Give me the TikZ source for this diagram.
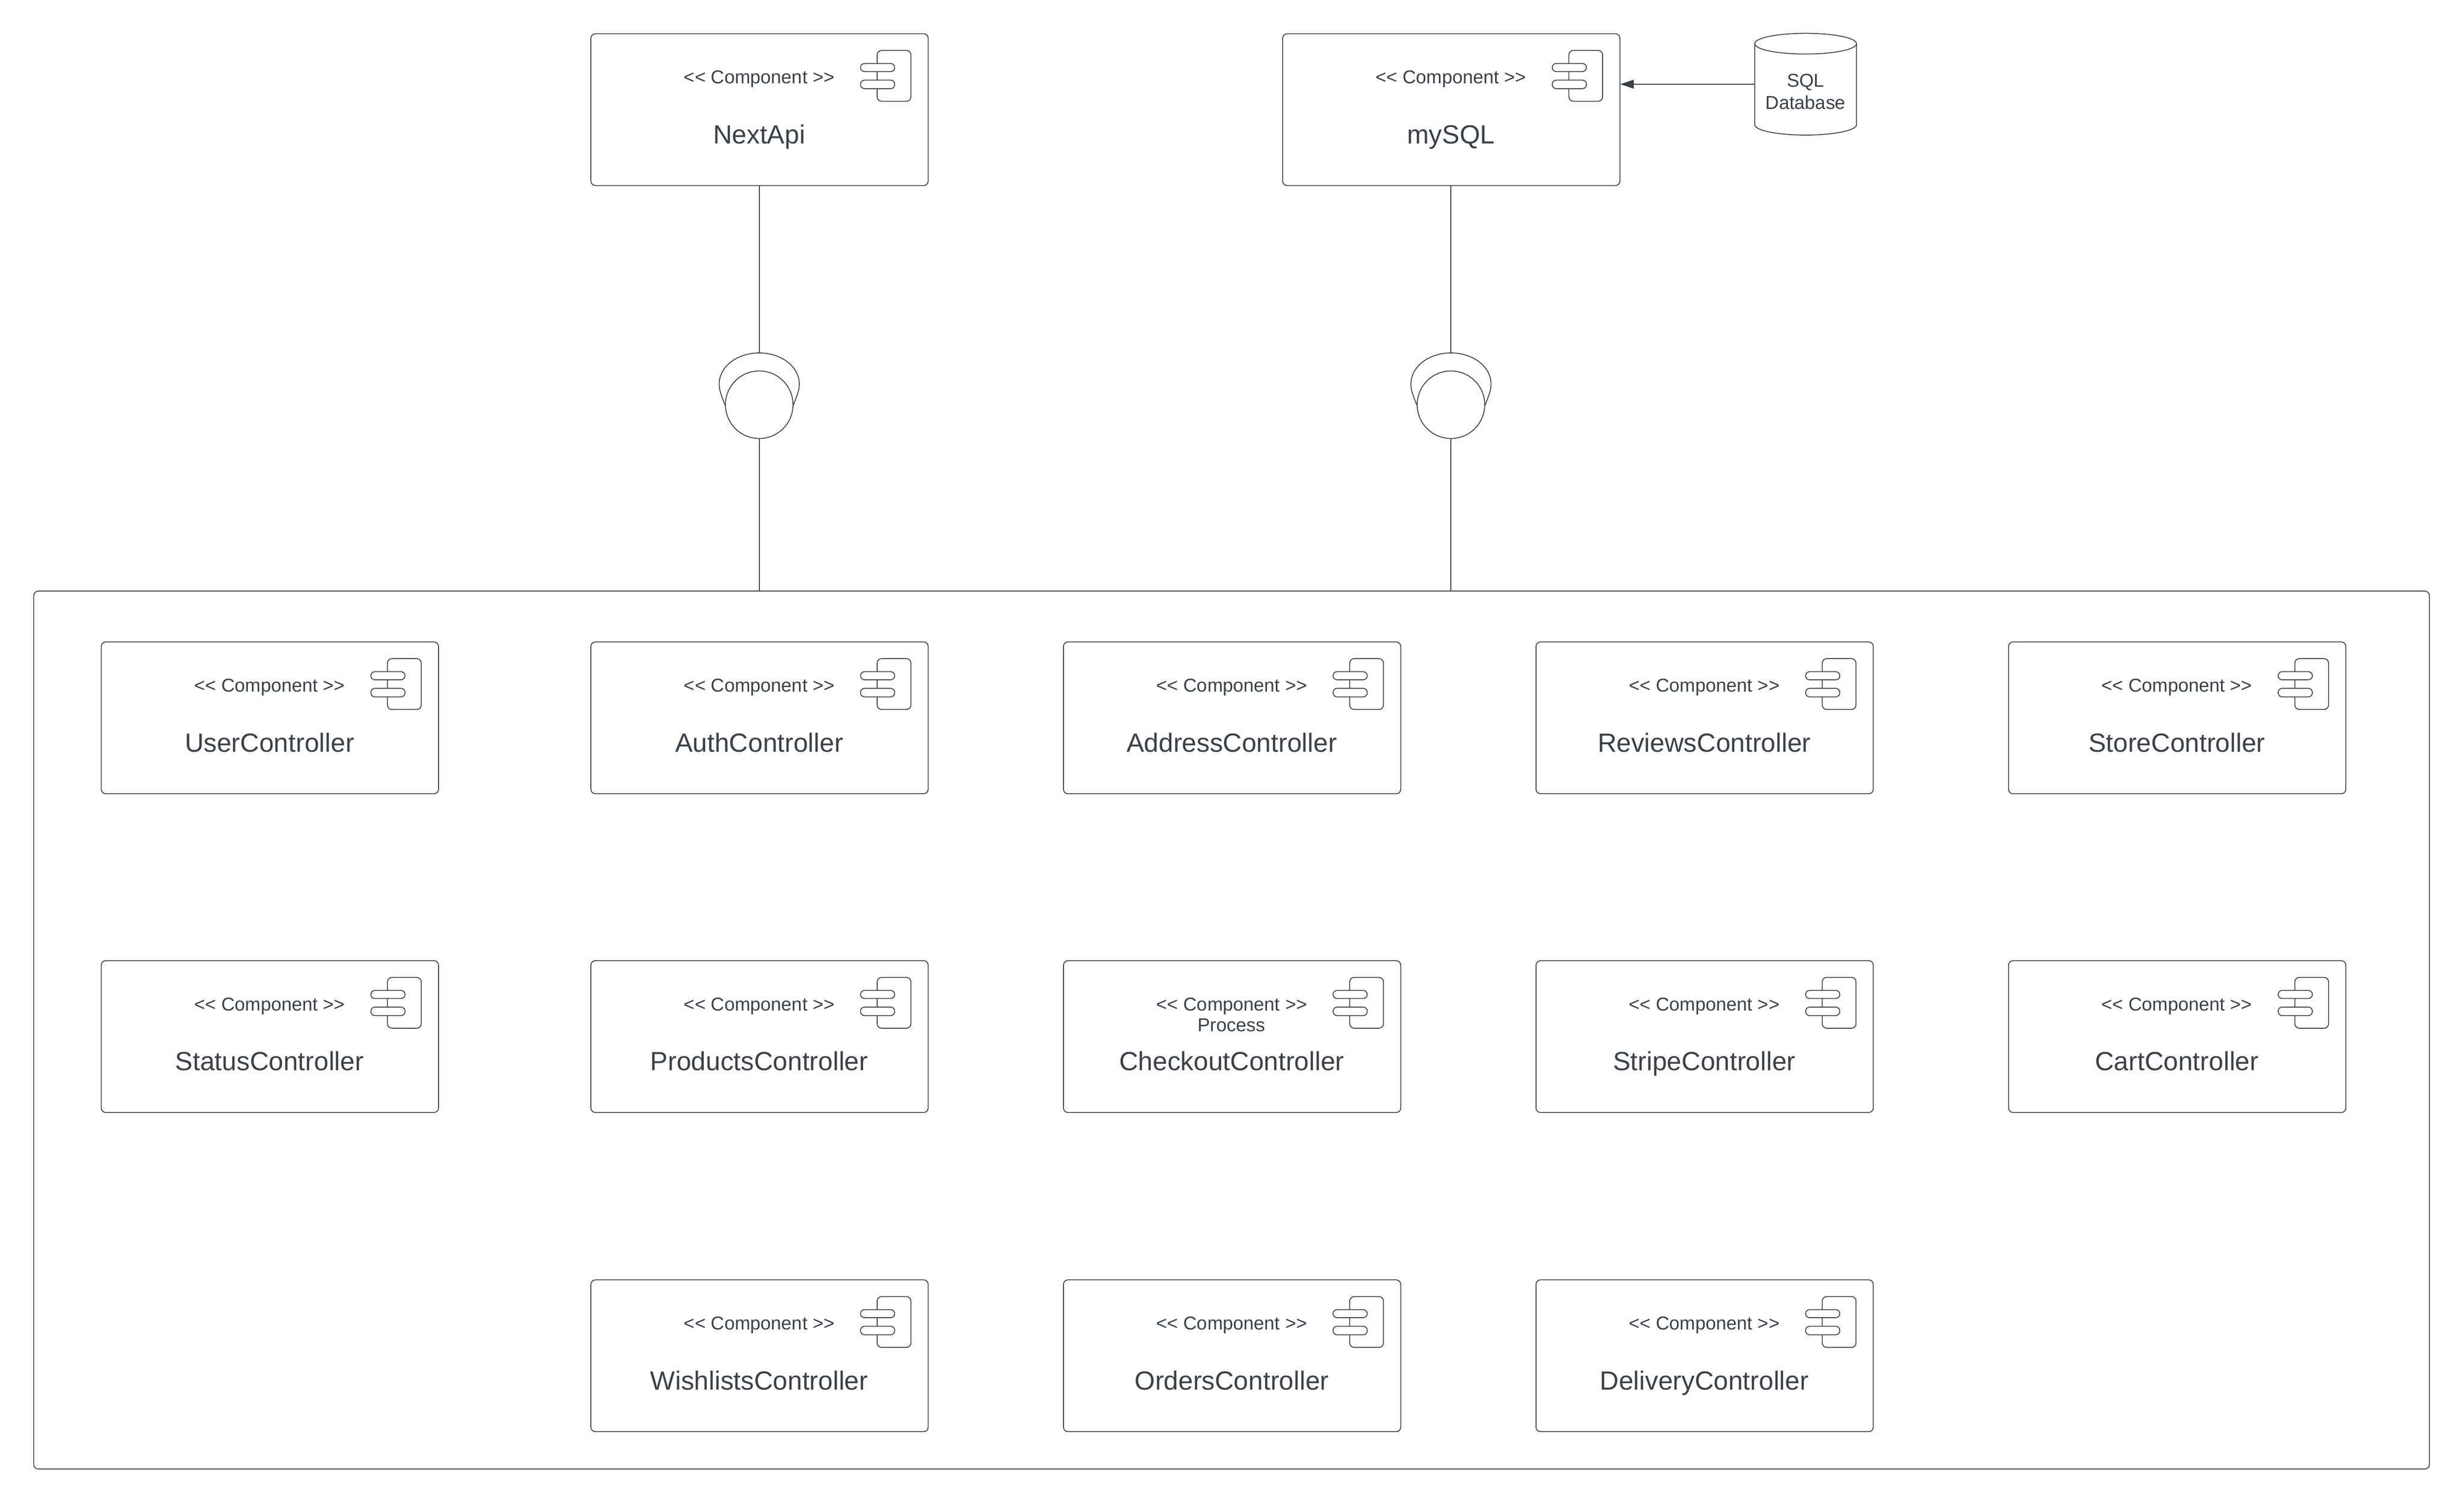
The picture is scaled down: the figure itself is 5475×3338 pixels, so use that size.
\documentclass[tikz,border=0pt]{standalone}
\usepackage{fontspec}
\setmainfont{Liberation Sans}
\usetikzlibrary{arrows.meta}
\definecolor{ink}{HTML}{3A414A}
\tikzset{
  lineart/.style={draw=ink,line width=0.55pt},
  compbox/.style={lineart,rounded corners=0.1cm,minimum width=7.49cm,minimum height=3.37cm,inner sep=0pt,anchor=north west},
  outerbox/.style={lineart,rounded corners=0.1cm,minimum width=53.2cm,minimum height=19.49cm,inner sep=0pt,anchor=north west},
  stereotext/.style={text=ink,font=\fontsize{11.8pt}{13.7pt}\selectfont,anchor=base,inner sep=0pt},
  nametext/.style={text=ink,font=\fontsize{16.6pt}{20pt}\selectfont,anchor=base,inner sep=0pt},
  ballnode/.style={lineart,circle,minimum size=1.5cm,inner sep=0pt},
  iconmain/.style={lineart,rounded corners=0.1cm},
  iconpill/.style={lineart,fill=white,rounded corners=0.09cm},
  arrowline/.style={lineart,-{Triangle[length=8.5pt,width=5.6pt]}}
}
\newcommand{\stereo}{<{}< Component >{}>}
% #1 name, #2 x, #3 y, #4 label
\newcommand{\compnode}[4]{%
  \node[compbox] (#1) at (#2,#3) {};
  \begin{scope}[shift={(#2,#3)}]
    \node[stereotext] (#1st) at (375,112) {\stereo};
    \node[nametext] (#1nm) at (375,245) {#4};
    \draw[iconmain] (637,38) rectangle (712,151);
    \draw[iconpill] (600,67) rectangle (676,85);
    \draw[iconpill] (600,104) rectangle (676,123);
  \end{scope}
}
% #1 socket node name, #2 upper arc start name, #3 x
\newcommand{\socketnode}[3]{%
  \node[ballnode] (#1) at (#3,899) {};
  \coordinate (#2) at (#3,784);
  \begin{scope}[shift={(#3,0)}]
    \draw[lineart] (-76,900) .. controls (-84,878) and (-89,868) .. (-89,853)
      .. controls (-89,815) and (-50,784) .. (0,784)
      .. controls (50,784) and (89,815) .. (89,853)
      .. controls (89,868) and (84,878) .. (76,900);
  \end{scope}
}
\begin{document}
\begin{tikzpicture}[x=0.01cm,y=-0.01cm]
\useasboundingbox (0,0) rectangle (5475,3338);
\fill[white] (0,0) rectangle (5475,3338);

\node[outerbox] (outer) at (74,1312) {};

\compnode{nextapi}{1312}{74}{NextApi}
\compnode{mysql}{2849}{74}{mySQL}

\compnode{user}{224}{1425}{UserController}
\compnode{auth}{1312}{1425}{AuthController}
\compnode{address}{2362}{1425}{AddressController}
\compnode{reviews}{3412}{1425}{ReviewsController}
\compnode{store}{4462}{1425}{StoreController}

\compnode{status}{224}{2133}{StatusController}
\compnode{products}{1312}{2133}{ProductsController}
\compnode{checkout}{2362}{2133}{CheckoutController}
\node[stereotext] (process) at (2736,2291) {Process};
\compnode{stripe}{3412}{2133}{StripeController}
\compnode{cart}{4462}{2133}{CartController}

\compnode{wishlists}{1312}{2842}{WishlistsController}
\compnode{orders}{2362}{2842}{OrdersController}
\compnode{delivery}{3412}{2842}{DeliveryController}

\socketnode{ballA}{arcA}{1687}
\socketnode{ballB}{arcB}{3224}

\draw[lineart] (arcA |- nextapi.south) -- (arcA);
\draw[lineart] (ballA.south) -- (ballA.south |- outer.north);
\draw[lineart] (arcB |- mysql.south) -- (arcB);
\draw[lineart] (ballB.south) -- (ballB.south |- outer.north);

% cylinder
\node[inner sep=0pt,minimum width=2.255cm,minimum height=2.26cm] (db) at (4012,187) {};
\draw[lineart] (3899,97) -- (3899,277)
  .. controls (3899,290) and (3950,300) .. (4012,300)
  .. controls (4074,300) and (4125,290) .. (4125,277) -- (4125,97);
\draw[lineart] (4012,74) .. controls (3950,74) and (3899,84) .. (3899,97)
  .. controls (3899,110) and (3950,120) .. (4012,120)
  .. controls (4074,120) and (4125,110) .. (4125,97)
  .. controls (4125,84) and (4074,74) .. (4012,74) -- cycle;
\node[stereotext] (dbA) at (4012,193) {SQL};
\node[stereotext] (dbB) at (4012,242) {Database};

\draw[arrowline] (db.west) -- (db.west -| mysql.east);
\end{tikzpicture}
\end{document}
